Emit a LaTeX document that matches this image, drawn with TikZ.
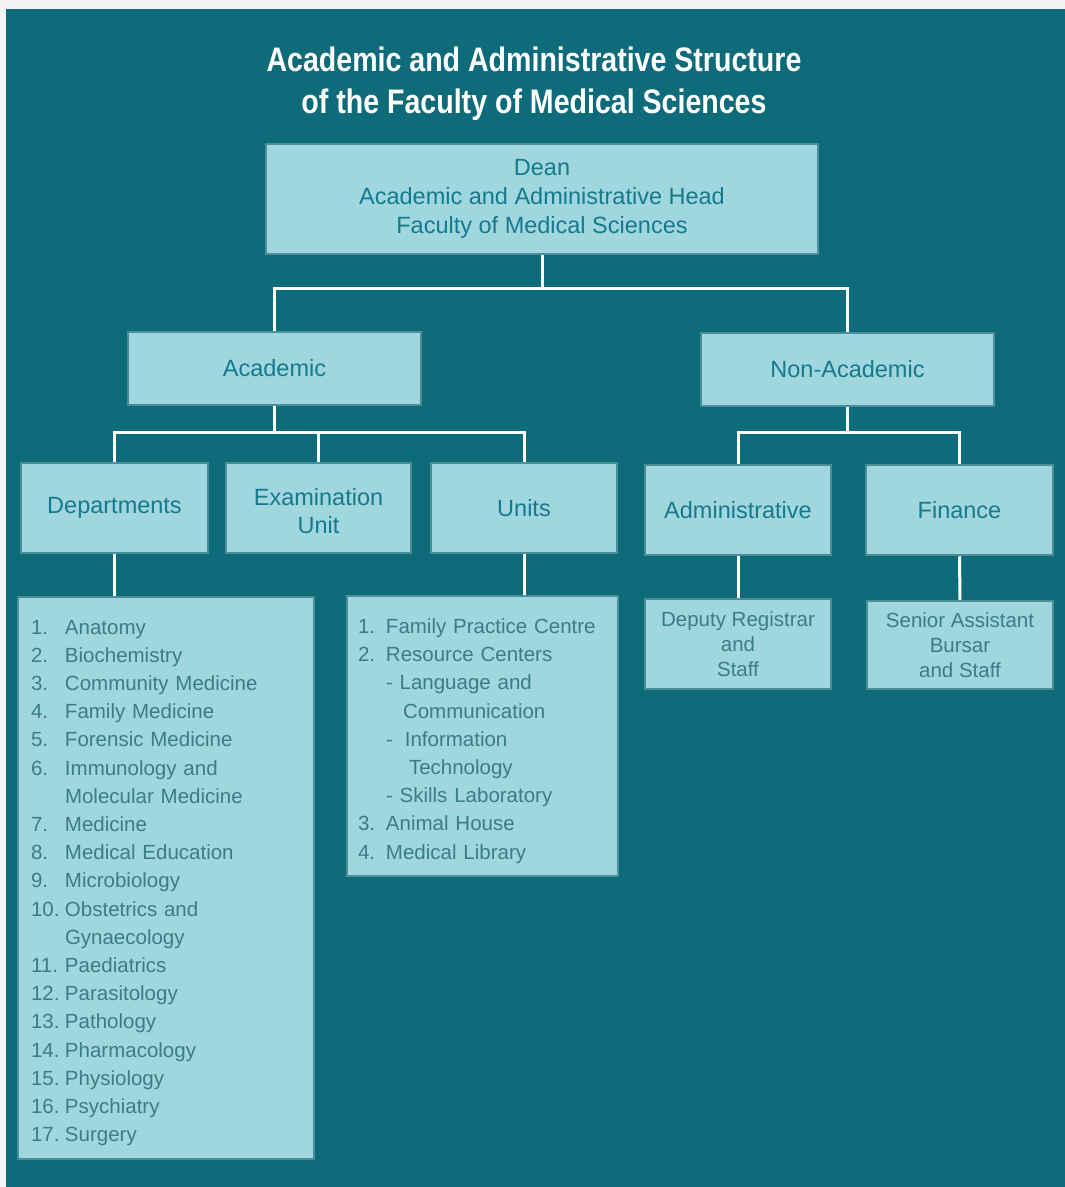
\documentclass[tikz,border=0pt]{standalone}
\usepackage{fontspec}
\setmainfont{Liberation Sans}
\newfontfamily\titlefont[FakeStretch=0.84]{Liberation Sans}
\definecolor{pagegray}{HTML}{F2F2F4}
\definecolor{darkteal}{HTML}{0E6C7A}
\definecolor{boxfill}{HTML}{A0D6DE}
\definecolor{boxline}{HTML}{4A8E98}
\definecolor{headtext}{HTML}{147A8C}
\definecolor{listtext}{HTML}{3A7D87}
\newcommand{\itm}[3][34pt]{\makebox[#1][l]{#2}#3}
\tikzset{
  orgbox/.style={draw=boxline, line width=2.5pt, fill=boxfill, inner sep=0pt, align=center},
  headbox/.style={orgbox, text=headtext, font=\fontsize{23.5}{28.5}\selectfont},
  staffbox/.style={orgbox, text=listtext, font=\fontsize{20.5}{25}\selectfont},
  listbox/.style={orgbox, text=listtext, align=left, font=\fontsize{20.5}{28.2}\selectfont},
  link/.style={draw=white, line width=3pt},
}
\begin{document}
\begin{tikzpicture}[x=1pt, y=-1pt]
        \fill[pagegray] (0,0) rectangle (1065,1187);
        \fill[darkteal] (6,9) rectangle (1065,1187);

        \node[text=white, align=center, font=\titlefont\bfseries\fontsize{34}{42}\selectfont] (title) at (534,84)
            {Academic and Administrative Structure\\of the Faculty of Medical Sciences};

        \node[headbox, minimum width=552pt, minimum height=110pt, font=\fontsize{23.5}{29}\selectfont] (dean) at (542,199)
            {Dean\\Academic and Administrative Head\\Faculty of Medical Sciences};

        \node[headbox, minimum width=293pt, minimum height=73pt] (acad) at (274.5,368.5) {Academic};
        \node[headbox, minimum width=293pt, minimum height=73pt] (nonacad) at (847.5,369.5) {Non-Academic};

        \node[headbox, minimum width=187pt, minimum height=90pt] (depts) at (114.5,508) {Departments};
        \node[headbox, minimum width=185pt, minimum height=90pt] (exam) at (318.5,508) {\rule{0pt}{23pt}Examination\\Unit};
        \node[headbox, minimum width=186pt, minimum height=90pt] (units) at (524,508) {Units};
        \node[headbox, minimum width=186pt, minimum height=90pt] (admin) at (738,510) {Administrative};
        \node[headbox, minimum width=187pt, minimum height=90pt] (finance) at (959.5,510) {Finance};

        \node[staffbox, minimum width=186pt, minimum height=90pt] (deputy) at (738,644) {Deputy Registrar\\and\\Staff};
        \node[staffbox, minimum width=186pt, minimum height=88pt] (bursar) at (960,645) {Senior Assistant\\Bursar\\and Staff};

        % departments list
        \node[listbox, minimum width=296pt, minimum height=562pt, text width=270pt, inner xsep=13pt] (deptlist) at (166,878) {%
            \rule{0pt}{24pt}\itm{1.}{Anatomy}\\
            \itm{2.}{Biochemistry}\\
            \itm{3.}{Community Medicine}\\
            \itm{4.}{Family Medicine}\\
            \itm{5.}{Forensic Medicine}\\
            \itm{6.}{Immunology and}\\
            \itm{}{Molecular Medicine}\\
            \itm{7.}{Medicine}\\
            \itm{8.}{Medical Education}\\
            \itm{9.}{Microbiology}\\
            \itm{10.}{Obstetrics and}\\
            \itm{}{Gynaecology}\\
            \itm{11.}{Paediatrics}\\
            \itm{12.}{Parasitology}\\
            \itm{13.}{Pathology}\\
            \itm{14.}{Pharmacology}\\
            \itm{15.}{Physiology}\\
            \itm{16.}{Psychiatry}\\
            \itm{17.}{Surgery}};

        % units list
        \node[listbox, minimum width=271pt, minimum height=280pt, text width=249pt, inner xsep=11pt] (unitlist) at (482.5,736) {%
            \rule{0pt}{25pt}\itm[28pt]{1.}{Family Practice Centre}\\
            \itm[28pt]{2.}{Resource Centers}\\
            \itm[28pt]{}{- Language and}\\
            \itm[28pt]{}{\hspace*{17pt}Communication}\\
            \itm[28pt]{}{-\hspace*{12pt}Information}\\
            \itm[28pt]{}{\hspace*{23pt}Technology}\\
            \itm[28pt]{}{- Skills Laboratory}\\
            \itm[28pt]{3.}{Animal House}\\
            \itm[28pt]{4.}{Medical Library}};

        \draw[link] (dean.south) -- ++(0,33) coordinate (top);
        \draw[link] (acad.north) |- (top) -| (nonacad.north);
        \draw[link] (acad.south) -- ++(0,26) coordinate (acj);
        \draw[link] (depts.north) |- (acj) -| (units.north);
        \draw[link] (exam.north) -- (exam.north |- acj);
        \draw[link] (nonacad.south) -- ++(0,25) coordinate (naj);
        \draw[link] (admin.north) |- (naj) -| (finance.north);
        \draw[link] (depts.south) -- (deptlist.north -| depts.south);
        \draw[link] (units.south) -- (unitlist.north -| units.south);
        \draw[link] (admin.south) -- (deputy.north);
        \draw[link] (finance.south) -- (bursar.north);
\end{tikzpicture}
\end{document}
